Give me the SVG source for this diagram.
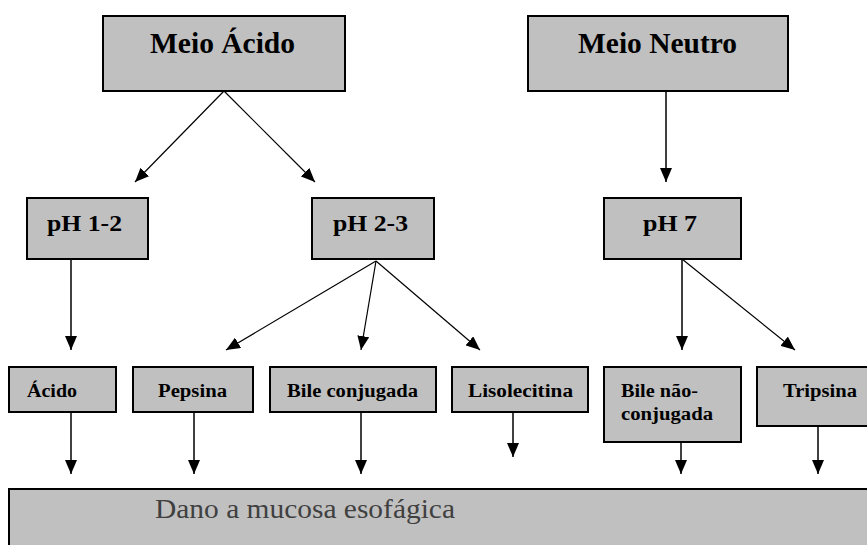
<svg xmlns="http://www.w3.org/2000/svg" width="867" height="545" viewBox="0 0 867 545">
<style>
.box{fill:#c0c0c0;stroke:#000;stroke-width:2}
.t{font-family:"Liberation Serif","Times New Roman",serif;font-weight:bold;fill:#000}
.big{font-size:29px}
.mid{font-size:23px}
.sm{font-size:18px}
.c{stroke:#000;stroke-width:1.5;fill:none;marker-end:url(#ah)}
.d{stroke:#000;stroke-width:1.2;fill:none;marker-end:url(#ah)}
</style>
<defs>
<marker id="ah" markerUnits="userSpaceOnUse" markerWidth="14" markerHeight="12" viewBox="0 0 14 12" refX="14" refY="6" orient="auto">
<path d="M0,0 L14,6 L0,12 Z" fill="#000"/>
</marker>
</defs>
<rect width="867" height="545" fill="#fff"/>
<g id="connectors">
<line class="d" x1="224" y1="91" x2="135" y2="182"/>
<line class="d" x1="224" y1="91" x2="315" y2="182"/>
<line class="c" x1="666" y1="91" x2="666" y2="182"/>
<line class="c" x1="71" y1="259" x2="71" y2="350"/>
<line class="d" x1="376" y1="261" x2="226" y2="350"/>
<line class="d" x1="376" y1="261" x2="361" y2="350"/>
<line class="d" x1="376" y1="261" x2="480" y2="350"/>
<line class="c" x1="682" y1="259" x2="682" y2="350"/>
<line class="d" x1="682" y1="259" x2="795" y2="350"/>
<line class="c" x1="71" y1="412" x2="71" y2="474"/>
<line class="c" x1="194" y1="412" x2="194" y2="474"/>
<line class="c" x1="361" y1="412" x2="361" y2="474"/>
<line class="c" x1="513" y1="412" x2="513" y2="457"/>
<line class="c" x1="681" y1="442" x2="681" y2="474"/>
<line class="c" x1="818" y1="426" x2="818" y2="474"/>
</g>
<g id="meio-acido">
<rect class="box" x="103" y="16" width="242" height="75"/>
<text class="t big" x="150" y="53" textLength="145" lengthAdjust="spacingAndGlyphs">Meio Ácido</text>
</g>
<g id="meio-neutro">
<rect class="box" x="528" y="16" width="260" height="75"/>
<text class="t big" x="578" y="53" textLength="159" lengthAdjust="spacingAndGlyphs">Meio Neutro</text>
</g>
<g id="ph12">
<rect class="box" x="27" y="198" width="121" height="61"/>
<text class="t mid" x="47" y="231" textLength="75" lengthAdjust="spacingAndGlyphs">pH 1-2</text>
</g>
<g id="ph23">
<rect class="box" x="312" y="198" width="122" height="61"/>
<text class="t mid" x="333" y="231" textLength="75" lengthAdjust="spacingAndGlyphs">pH 2-3</text>
</g>
<g id="ph7">
<rect class="box" x="604" y="198" width="137" height="61"/>
<text class="t mid" x="643" y="231" textLength="54" lengthAdjust="spacingAndGlyphs">pH 7</text>
</g>
<g id="acido">
<rect class="box" x="9" y="367" width="107" height="45"/>
<text class="t sm" x="27" y="397" textLength="50" lengthAdjust="spacingAndGlyphs">Ácido</text>
</g>
<g id="pepsina">
<rect class="box" x="133" y="367" width="120" height="45"/>
<text class="t sm" x="158" y="397" textLength="69" lengthAdjust="spacingAndGlyphs">Pepsina</text>
</g>
<g id="bile-conjugada">
<rect class="box" x="270" y="367" width="166" height="45"/>
<text class="t sm" x="287" y="397" textLength="131" lengthAdjust="spacingAndGlyphs">Bile conjugada</text>
</g>
<g id="lisolecitina">
<rect class="box" x="452" y="367" width="136" height="45"/>
<text class="t sm" x="468" y="397" textLength="105" lengthAdjust="spacingAndGlyphs">Lisolecitina</text>
</g>
<g id="bile-nao-conjugada">
<rect class="box" x="604" y="367" width="137" height="75"/>
<text class="t sm" x="621" y="397" textLength="77" lengthAdjust="spacingAndGlyphs">Bile não-</text>
<text class="t sm" x="621" y="420" textLength="92" lengthAdjust="spacingAndGlyphs">conjugada</text>
</g>
<g id="tripsina">
<rect class="box" x="757" y="367" width="120" height="59"/>
<text class="t sm" x="783" y="397" textLength="74" lengthAdjust="spacingAndGlyphs">Tripsina</text>
</g>
<g id="dano">
<rect class="box" x="9" y="489" width="870" height="70"/>
<text x="155" y="518" font-family="'Liberation Serif','Times New Roman',serif" font-size="27" fill="#404040" textLength="300" lengthAdjust="spacingAndGlyphs">Dano a mucosa esofágica</text>
</g>
</svg>
